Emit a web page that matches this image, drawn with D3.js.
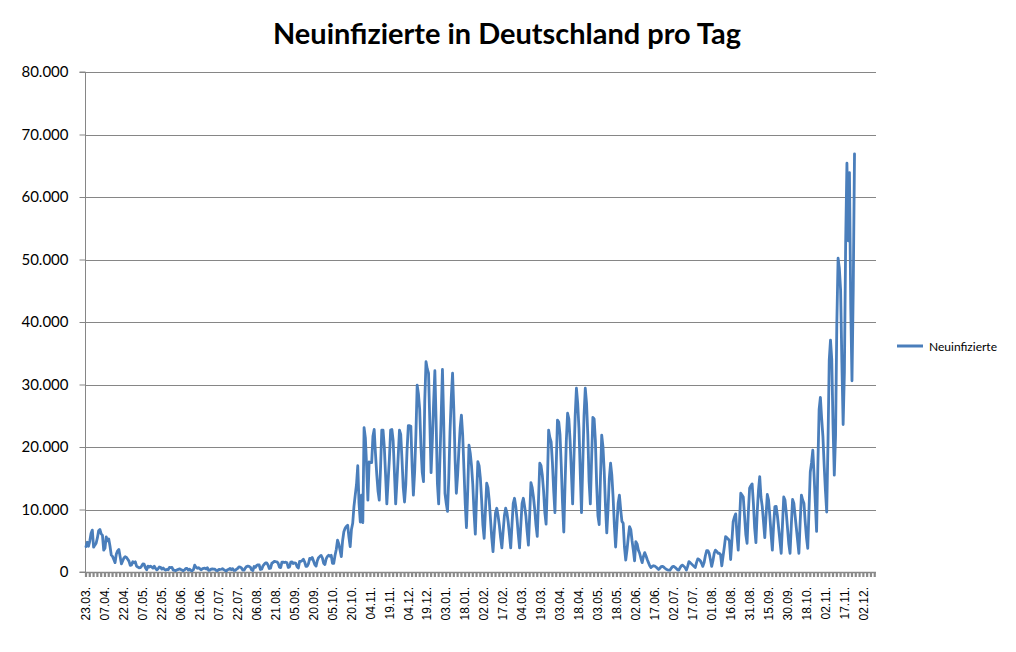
<!DOCTYPE html>
<html>
<head>
<meta charset="utf-8">
<title>Neuinfizierte in Deutschland pro Tag</title>
<script src="https://cdn.jsdelivr.net/npm/d3@7"></script>
<style>
  html, body { margin: 0; padding: 0; background: #fff; }
  svg { display: block; }
  .grid line { stroke: #868686; stroke-width: 1; }
  .axis line, .axis path { stroke: #868686; }
  .ylab { font-family: Lato, "Liberation Sans", sans-serif; font-size: 15px; fill: #000; }
  .xlab { font-family: "Liberation Sans", Arial, sans-serif; font-size: 12px; fill: #000; }
  .title { font-family: Lato, "Open Sans", sans-serif; font-weight: bold; font-size: 29px; fill: #000; }
  .legend text { font-family: Lato, "Liberation Sans", sans-serif; font-size: 12px; fill: #000; }
</style>
</head>
<body>
<div id="chart"></div>
<script>

/*
 * Chart data.
 */

// Category axis: one label every 15 categories.
var tickLabels = [
  '23.03.', '07.04.', '22.04.', '07.05.', '22.05.', '06.06.', '21.06.',
  '07.07.', '22.07.', '06.08.', '21.08.', '05.09.', '20.09.', '05.10.',
  '20.10.', '04.11.', '19.11.', '04.12.', '19.12.', '03.01.', '18.01.',
  '02.02.', '17.02.', '04.03.', '19.03.', '03.04.', '18.04.', '03.05.',
  '18.05.', '02.06.', '17.06.', '02.07.', '17.07.', '01.08.', '16.08.',
  '31.08.', '15.09.', '30.09.', '18.10.', '02.11.', '17.11.', '02.12.'
];

var categoryCount = 626;
var labelEvery = 15;
var tickEvery = 3;

var yTicks = [0, 10000, 20000, 30000, 40000, 50000, 60000, 70000, 80000];

var seriesName = 'Neuinfizierte';

// Daily new infections.
var neuinfizierte = [
  4060, 4760, 4120, 4950, 6200, 6700, 3970,
  4300, 4600, 5450, 6600, 6800, 6100, 5900,
  3500, 3800, 5600, 4970, 5300, 4130, 2700,
  2500, 2000, 1500, 2870, 3380, 3600, 2460,
  1300, 1780, 2240, 2450, 2340, 2050, 1740,
  1050, 1140, 1650, 1480, 1640, 945, 790,
  680, 690, 950, 1280, 1250, 670, 360,
  930, 800, 930, 800, 620, 940, 580,
  340, 510, 800, 750, 460, 640, 430,
  290, 430, 360, 740, 700, 740, 300,
  280, 210, 340, 410, 500, 410, 300,
  210, 350, 560, 560, 300, 460, 250,
  190, 380, 1100, 770, 600, 690, 540,
  350, 500, 590, 630, 480, 690, 260,
  300, 470, 510, 470, 450, 250, 220,
  400, 400, 440, 530, 390, 250, 160,
  380, 410, 580, 370, 530, 250, 250,
  450, 570, 820, 780, 650, 300, 290,
  630, 880, 950, 900, 780, 350, 240,
  880, 740, 1040, 1150, 1120, 400, 440,
  970, 1230, 1440, 1450, 1120, 560, 620,
  1390, 1510, 1700, 1650, 1630, 1410, 780, 710,
  1580, 1580, 1520, 1570, 1480, 720, 800,
  1570, 1610, 1360, 1450, 1380, 840, 650,
  1700, 1690, 1830, 2030, 1600, 920, 920,
  1350, 2180, 2080, 2320, 1770, 1180, 940,
  1800, 2300, 2500, 2650, 2270, 1410, 1190,
  2090, 2500, 2700, 2500, 2670, 1400, 1380,
  2640, 3600, 5100, 4500, 3500, 2450, 5000,
  6450, 7000, 7300, 7500, 5600, 4050, 6800,
  7800, 10500, 12300, 14000, 17000, 11000, 8000,
  12300, 7900, 23100, 21500, 17000, 11500, 17600,
  17500, 17500, 21700, 22800, 19000, 15700, 13000,
  11500, 16500, 22700, 22700, 20000, 15500, 10900,
  14500, 18000, 22700, 22800, 21000, 16000, 10900,
  14500, 18500, 22700, 22000, 18000, 13500, 11200,
  14000, 19500, 23400, 23400, 23300, 17000, 12300,
  16000, 22000, 29900, 28500, 26000, 20000, 16000,
  14450, 27400, 33650, 32500, 31800, 24000, 15900,
  21000, 27000, 32200, 24000, 14200, 10900, 18000,
  25000, 32400, 24000, 12600, 11000, 9700, 15000,
  22500, 28000, 31800, 26000, 18000, 12600, 15500,
  19500, 23000, 25100, 22000, 16500, 11000, 7100,
  13000, 20300, 19000, 17000, 14000, 9500, 6050,
  12000, 17650, 17000, 15000, 11500, 7500, 5400,
  9800, 14200, 13500, 11500, 8500, 5500, 3250,
  6500, 9500, 10200, 9000, 7500, 5500, 3850,
  6500, 9000, 10200, 9500, 8000, 6000, 3850,
  7500, 11000, 11800, 10500, 8500, 6000, 3850,
  7500, 11000, 11800, 10500, 9000, 6500, 4300,
  9000, 14300, 13500, 12000, 10000, 7500, 5700,
  11500, 17400, 17000, 15500, 13000, 9500, 7650,
  14000, 22700, 21500, 20800, 17500, 13000, 9500,
  17000, 24300, 24000, 22000, 17000, 11000, 6400,
  14000, 21000, 25400, 24500, 21000, 16000, 10900,
  18000, 25000, 29400, 27000, 23000, 16000, 9500,
  17000, 25000, 29400, 27000, 22000, 14500, 10900,
  18000, 24750, 24500, 21000, 14000, 9000, 7600,
  15000, 21900, 20000, 16000, 10500, 6250, 10000,
  15000, 17400, 15500, 12000, 7500, 4000, 7500,
  11000, 12300, 10000, 8100, 7800, 4000, 1900,
  3500, 5500, 7250, 6800, 5000, 3500, 1800,
  4850, 4500, 3500, 3000, 2200, 1500, 2500,
  3100, 2600, 2000, 1500, 1000, 700, 900,
  1000, 950, 800, 600, 400, 600, 850,
  900, 800, 600, 450, 350, 300, 300, 600,
  850, 900, 750, 550, 350, 300, 700,
  1000, 1100, 900, 700, 300, 900, 1650,
  1500, 1300, 1100, 900, 700, 1500, 2100,
  2000, 1800, 1400, 900, 1500, 2600, 3400,
  3400, 3000, 2000, 900, 1800, 3000, 3500,
  3300, 3000, 3000, 2800, 1000, 2500, 4000,
  5650, 5500, 5300, 5000, 2000, 5000, 8050,
  8800, 9300, 6000, 3500, 8000, 12600, 12300,
  12000, 9000, 6000, 4600, 9500, 13400, 13800,
  14100, 11000, 7000, 4700, 9500, 13000, 15250,
  12000, 10500, 8000, 5500, 9000, 12400, 11500,
  9000, 6000, 3500, 7500, 10450, 10500, 9000,
  7000, 5000, 3000, 7500, 12000, 11500, 9500,
  7000, 4500, 3000, 7500, 11600, 11000, 9000,
  7000, 5000, 3000, 8000, 12300, 11500, 11000,
  8000, 5500, 3800, 10000, 16000, 17500, 19500,
  15500, 11000, 6500, 17000, 26000, 27950, 24600,
  21700, 17000, 13000, 9600, 20400, 33900, 37100,
  34000, 23500, 15500, 21800, 39700, 50200, 48600,
  45100, 33500, 23600, 32000, 52800, 65400, 53000,
  63900, 42700, 30600, 45300, 66900
];

/*
 * Draw the chart.
 */

var width = 1016;
var height = 652;
var plot = { left: 86, right: 876, top: 72, bottom: 572 };

// German number format: 80.000
var de = d3.formatLocale({ decimal: ',', thousands: '.', grouping: [3], currency: ['', ' €'] });
var fmt = de.format(',');

var svg = d3.select('#chart').append('svg')
  .attr('width', width)
  .attr('height', height);

// Scales.
var x = d3.scaleLinear().domain([0, categoryCount - 1]).range([plot.left, plot.right]);
var y = d3.scaleLinear().domain([0, 80000]).range([plot.bottom, plot.top]);

// Title.
svg.append('text')
  .attr('class', 'title')
  .attr('x', 273)
  .attr('y', 44)
  .attr('textLength', 468)
  .attr('lengthAdjust', 'spacingAndGlyphs')
  .text('Neuinfizierte in Deutschland pro Tag');

// Horizontal gridlines.
svg.append('g').attr('class', 'grid')
  .selectAll('line')
  .data(yTicks.filter(function(d) { return d > 0; }))
  .enter().append('line')
  .attr('x1', plot.left)
  .attr('x2', plot.right)
  .attr('y1', function(d) { return Math.round(y(d)) + 0.5; })
  .attr('y2', function(d) { return Math.round(y(d)) + 0.5; });

// Y axis.
var yAxis = d3.axisLeft(y)
  .tickValues(yTicks)
  .tickSize(6)
  .tickPadding(11)
  .tickFormat(fmt);

var gy = svg.append('g')
  .attr('class', 'axis')
  .attr('transform', 'translate(' + (plot.left - 0.5) + ',0)')
  .call(yAxis);
gy.select('.domain').attr('d', 'M-6,' + plot.top + 'H0V' + plot.bottom + 'H-6');
gy.selectAll('text').attr('class', 'ylab').attr('font-family', null).attr('font-size', null);

// X axis: baseline and tick marks.
var gx = svg.append('g').attr('class', 'axis');

gx.append('line')
  .attr('x1', plot.left)
  .attr('x2', plot.right)
  .attr('y1', plot.bottom + 0.5)
  .attr('y2', plot.bottom + 0.5)
  .style('stroke-width', 1.5);

gx.selectAll('line.tick')
  .data(d3.range(0, categoryCount, tickEvery))
  .enter().append('line')
  .attr('class', 'tick')
  .attr('x1', function(d) { return x(d); })
  .attr('x2', function(d) { return x(d); })
  .attr('y1', plot.bottom)
  .attr('y2', plot.bottom + 5)
  .style('stroke', '#8a8a8a')
  .style('stroke-width', 2.2);

// X labels, rotated.
gx.selectAll('text')
  .data(tickLabels)
  .enter().append('text')
  .attr('class', 'xlab')
  .attr('text-anchor', 'end')
  .attr('dy', '0.35em')
  .attr('transform', function(d, i) {
    return 'translate(' + x(i * labelEvery) + ',' + 587 + ') rotate(-90)';
  })
  .text(function(d) { return d; });

// Series line.
var line = d3.line()
  .x(function(d, i) { return x(i); })
  .y(function(d) { return y(d); });

svg.append('path')
  .datum(neuinfizierte)
  .attr('d', line)
  .attr('fill', 'none')
  .attr('stroke', '#4a7ebb')
  .attr('stroke-width', 2.8)
  .attr('stroke-linejoin', 'round')
  .attr('stroke-linecap', 'round');

// Legend.
var legend = svg.append('g').attr('class', 'legend');

legend.append('line')
  .attr('x1', 897)
  .attr('x2', 923)
  .attr('y1', 346)
  .attr('y2', 346)
  .attr('stroke', '#4a7ebb')
  .attr('stroke-width', 3);

legend.append('text')
  .attr('x', 929)
  .attr('y', 350.5)
  .text(seriesName);

</script>
</body>
</html>
